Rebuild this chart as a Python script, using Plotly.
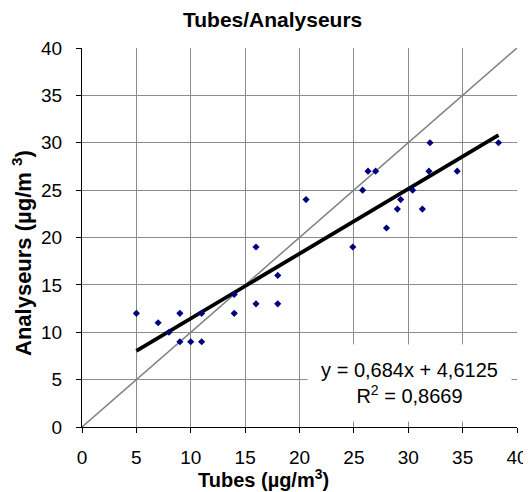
import plotly.graph_objects as go

tubes = [5, 7, 8, 9, 9, 10, 11, 11, 14, 14, 16, 16, 18, 18,
         20.6, 24.9, 25.8, 26.3, 27, 28, 29, 29.3, 30.4, 31.3, 31.9, 32, 34.5, 38.3]
analyseurs = [12, 11, 10, 12, 9, 9, 9, 12, 12, 14, 13, 19, 16, 13,
              24, 19, 25, 27, 27, 21, 23, 24, 25, 23, 27, 30, 27, 30]
slope = 0.684
intercept = 4.6125
r2 = 0.8669
identity = [0, 40]

FONT = "Arial, Liberation Sans, sans-serif"

tx = [min(tubes), max(tubes)]
ty = [slope * v + intercept for v in tx]

fig = go.Figure()
fig.add_trace(go.Scatter(x=identity, y=identity, mode="lines",
                         line=dict(color="#808080", width=1.5), hoverinfo="skip"))
fig.add_trace(go.Scatter(x=tx, y=ty, mode="lines",
                         line=dict(color="black", width=3.8), hoverinfo="skip"))
fig.add_trace(go.Scatter(x=tubes, y=analyseurs, mode="markers",
                         marker=dict(symbol="diamond", size=5.5, color="#000080")))

fig.update_layout(
    width=523, height=484,
    margin=dict(l=74, r=14, t=40, b=65),
    paper_bgcolor="white", plot_bgcolor="white",
    showlegend=False,
    font=dict(family=FONT, size=19, color="black"),
    title=dict(text="<b>Tubes/Analyseurs</b>", x=0.506, xanchor="center",
               y=0.975, yanchor="middle", font=dict(size=21)),
    annotations=[
        dict(x=0.753, y=0.116, xref="paper", yref="paper",
             xanchor="center", yanchor="middle",
             text="y = 0,684x + 4,6125<br>R<sup>2</sup> = 0,8669",
             showarrow=False, bgcolor="white", align="center",
             width=201, height=74, font=dict(size=20)),
        dict(x=0.418, y=-0.137, xref="paper", yref="paper",
             xanchor="center", yanchor="middle",
             text="<b>Tubes (µg/m<sup>3</sup>)</b>", showarrow=False,
             font=dict(size=20)),
        dict(x=-0.138, y=0.459, xref="paper", yref="paper",
             xanchor="center", yanchor="middle", textangle=-90,
             text="<b>Analyseurs (µg/m <sup>3</sup>)</b>", showarrow=False,
             font=dict(size=22)),
    ],
)
fig.update_xaxes(
    range=[0, 40], dtick=5, tick0=0,
    showgrid=True, gridcolor="#8c8c8c", gridwidth=1,
    showline=True, linecolor="black", linewidth=1,
    ticks="outside", ticklen=5, tickcolor="black",
    zeroline=False, automargin=False, ticklabelstandoff=8,
)
fig.update_yaxes(
    range=[0, 40], dtick=5, tick0=0,
    showgrid=True, gridcolor="#8c8c8c", gridwidth=1,
    showline=True, linecolor="black", linewidth=1,
    ticks="outside", ticklen=5, tickcolor="black",
    zeroline=False, automargin=False, ticklabelstandoff=10,
)

fig.write_html("out.html")
